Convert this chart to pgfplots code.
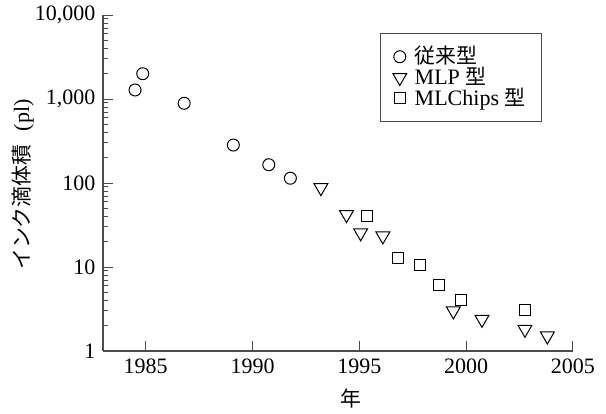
\documentclass[border=0pt]{standalone}
\usepackage{fontspec}
\setmainfont{Liberation Serif}
\newfontfamily\cjk{Noto Sans CJK JP}[Scale=0.95]
\usepackage{pgfplots}
\pgfplotsset{compat=1.18}
\begin{document}
\fontsize{11}{13}\selectfont
\begin{tikzpicture}
\begin{semilogyaxis}[
  scale only axis, width=235pt, height=168pt,
  at={(0,0)}, anchor=south west,
  xmin=1983, xmax=2005, ymin=1, ymax=10000,
  axis x line=bottom, axis y line=left,
  axis line style={-, draw=black!70, line width=0.6pt},
  tick align=inside, tick style={black!70, line width=0.5pt},
  major tick length=5pt, minor tick length=2.5pt,
  xtick={1985,1990,1995,2000,2005},
  xticklabels={1985,1990,1995,2000,2005},
  ytick={1,10,100,1000,10000}, yticklabels={1,10,100,{1,000},{10,000}},
  /pgf/number format/assume math mode=true,
  ticklabel style={font=\rmfamily\fontsize{11}{13}\selectfont},
  xlabel={\cjk 年},
  xlabel style={at={(axis description cs:0.527,-0.14)}, anchor=center},
  ylabel={{\cjk インク滴体積}\hspace{0.6em}(pl)},
  ylabel style={at={(axis description cs:-0.171,0.495)}, anchor=center},
  legend style={at={(axis description cs:0.934,0.947)}, anchor=north east,
    draw=black!70, line width=0.5pt, font=\fontsize{11}{13}\selectfont,
    row sep=-4pt, inner xsep=6pt, inner ysep=4.5pt,
    /tikz/every odd column/.append style={column sep=2pt}},
  legend cell align=left,
]
\addplot[only marks, mark=o, mark size=3pt, mark options={black, line width=0.5pt}]
  coordinates {(1984.5,1280) (1984.86,2000) (1986.8,890) (1989.1,283) (1990.76,165) (1991.77,114)};
\addlegendentry{\cjk 従来型}
\addplot[only marks, mark=triangle, mark size=4pt, mark options={black, line width=0.5pt, rotate=180}]
  coordinates {(1993.2,88) (1994.4,42) (1995.06,25.5) (1996.1,23.4) (1999.4,3.0) (2000.74,2.38) (2002.75,1.81) (2003.8,1.51)};
\addlegendentry{MLP {\cjk 型}}
\addplot[only marks, mark=square, mark size=2.75pt, mark options={black, line width=0.5pt}]
  coordinates {(1995.37,41) (1996.8,12.7) (1997.85,10.6) (1998.75,6.1) (1999.74,4.05) (2002.75,3.07)};
\addlegendentry{MLChips {\cjk 型}}
\end{semilogyaxis}
\pgfresetboundingbox
\path (-51.5pt,-31pt) rectangle (251.5pt,175.5pt);
\end{tikzpicture}
\end{document}
